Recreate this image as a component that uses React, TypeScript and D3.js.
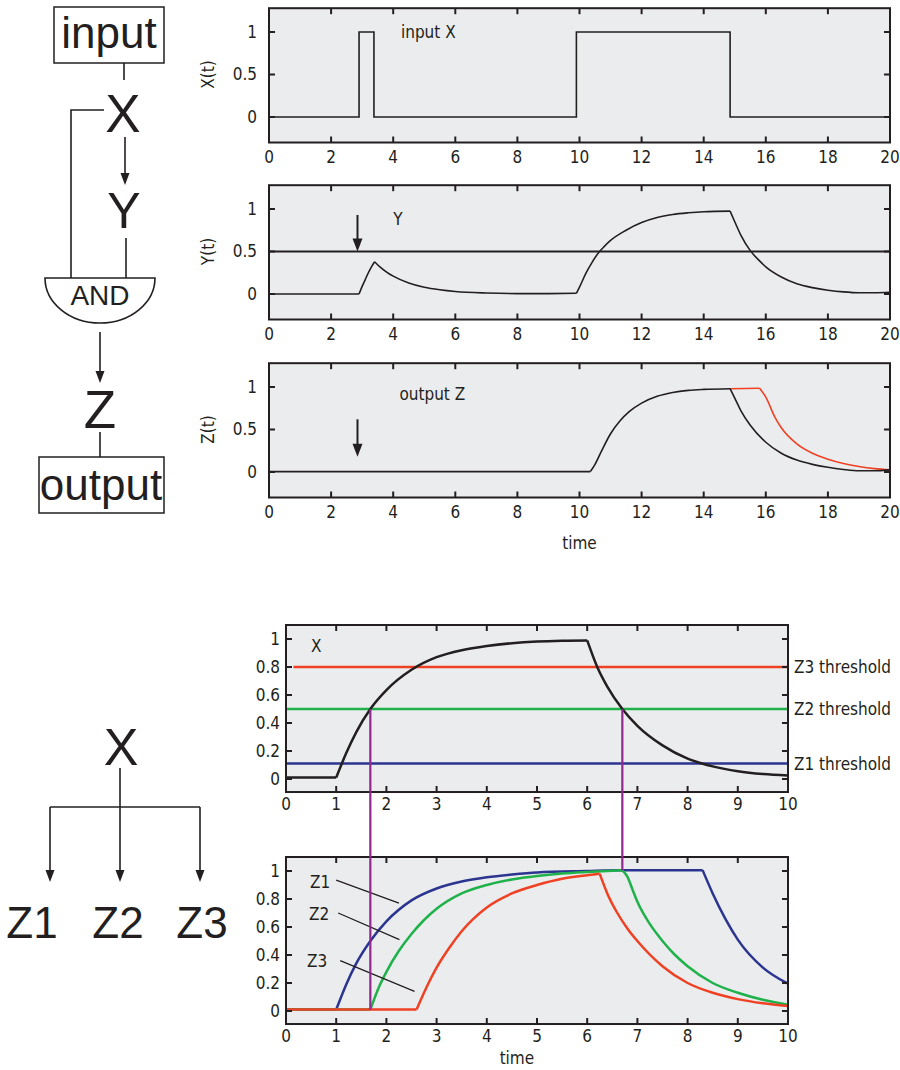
import React from 'react';
import * as d3 from 'd3';

// ---------- data ----------
const topTimeTicks = [0, 2, 4, 6, 8, 10, 12, 14, 16, 18, 20];
const topValueTicks = [0, 0.5, 1];
const bottomTimeTicks = [0, 1, 2, 3, 4, 5, 6, 7, 8, 9, 10];
const bottomValueTicks = [0, 0.2, 0.4, 0.6, 0.8, 1];

// panel A: input X (step function)
const inputTimes = [0, 2.9, 3.38, 9.9, 14.85, 20];
const inputValues = [0, 1, 0, 1, 0, 0];

// panel B: Y(t)
const yTimes = [0, 2.9, 3.0, 3.1, 3.2, 3.3, 3.4, 3.6, 3.8, 4.0, 4.5, 5, 5.5, 6, 7, 8, 9, 9.9,
  10.0, 10.2, 10.4, 10.6, 10.8, 11, 11.5, 12, 12.5, 13, 13.5, 14, 14.85,
  15.0, 15.2, 15.5, 15.8, 16, 16.5, 17, 17.5, 18, 18.5, 19, 19.5, 20];
const yValues = [0, 0, 0.09, 0.17, 0.25, 0.32, 0.38, 0.31, 0.255, 0.21, 0.13, 0.08, 0.05, 0.03, 0.012, 0.005, 0.005, 0.008,
  0.08, 0.24, 0.37, 0.48, 0.56, 0.63, 0.75, 0.84, 0.9, 0.935, 0.955, 0.968, 0.975,
  0.85, 0.69, 0.51, 0.39, 0.32, 0.2, 0.12, 0.075, 0.045, 0.025, 0.015, 0.015, 0.02];
const yKinks = [2.9, 3.4, 9.9, 14.85];
const yThreshold = 0.5;

// panel C: output Z(t)
const zTimes = [0, 10.35, 10.5, 10.7, 11, 11.3, 11.6, 12, 12.5, 13, 13.5, 14, 14.85,
  15.0, 15.2, 15.5, 16, 16.5, 17, 17.5, 18, 18.5, 19, 19.5, 20];
const zValues = [0.005, 0.005, 0.09, 0.24, 0.45, 0.6, 0.71, 0.81, 0.89, 0.935, 0.96, 0.972, 0.98,
  0.87, 0.72, 0.55, 0.35, 0.22, 0.14, 0.09, 0.055, 0.03, 0.015, 0.015, 0.025];
const zKinks = [10.35, 14.85];
const zDelayedTimes = [14.85, 15.8, 16, 16.3, 16.5, 17, 17.5, 18, 18.5, 19, 19.5, 20];
const zDelayedValues = [0.98, 0.985, 0.88, 0.64, 0.52, 0.33, 0.22, 0.15, 0.1, 0.065, 0.04, 0.025];
const zDelayedKinks = [15.8];
const arrowTime = 2.85;

// panel D: X with thresholds
const xTimes = [0, 1, 1.2, 1.4, 1.68, 2, 2.5, 3, 3.5, 4, 4.5, 5, 5.5, 6,
  6.2, 6.4, 6.7, 7, 7.5, 8, 8.5, 9, 9.5, 10];
const xValues = [0.01, 0.01, 0.185, 0.335, 0.5, 0.635, 0.78, 0.87, 0.92, 0.95, 0.97, 0.982, 0.988, 0.99,
  0.8, 0.66, 0.5, 0.38, 0.24, 0.145, 0.09, 0.055, 0.035, 0.025];
const xKinks = [1, 6];
const thresholdLabels = ['Z3 threshold', 'Z2 threshold', 'Z1 threshold'];
const thresholdValues = [0.8, 0.5, 0.11];
const thresholdStarts = [0.15, 0, 0];

// panel E: Z1, Z2, Z3
const z1Times = [0, 1, 1.2, 1.4, 1.68, 2, 2.5, 3, 3.5, 4, 4.5, 5, 6, 6.7, 8.3, 8.5, 8.75, 9, 9.5, 10];
const z1Values = [0.01, 0.01, 0.19, 0.34, 0.5, 0.64, 0.79, 0.875, 0.925, 0.955, 0.975, 0.99, 1.0, 1.005, 1.005, 0.84, 0.66, 0.51, 0.31, 0.195];
const z1Kinks = [1, 8.3];
const z2Times = [0, 1.68, 1.85, 2, 2.25, 2.5, 2.75, 3, 3.5, 4, 4.5, 5, 5.5, 6, 6.7, 6.8, 6.9, 7, 7.25, 7.5, 7.75, 8, 8.5, 9, 9.5, 10];
const z2Values = [0.01, 0.01, 0.17, 0.28, 0.43, 0.55, 0.65, 0.73, 0.84, 0.9, 0.94, 0.965, 0.982, 0.993, 1.005, 0.96, 0.87, 0.78, 0.62, 0.5, 0.4, 0.32, 0.2, 0.13, 0.08, 0.045];
const z2Kinks = [1.68, 6.7];
const z3Times = [0, 2.6, 2.8, 3, 3.25, 3.5, 4, 4.5, 5, 5.5, 6, 6.25, 6.4, 6.6, 6.8, 7, 7.5, 8, 8.5, 9, 9.5, 10];
const z3Values = [0.01, 0.01, 0.17, 0.31, 0.45, 0.57, 0.74, 0.84, 0.9, 0.945, 0.97, 0.98, 0.84, 0.7, 0.59, 0.5, 0.32, 0.2, 0.13, 0.085, 0.055, 0.035];
const z3Kinks = [2.6, 6.25];
const crossingTimes = [1.68, 6.7];
const crossingBottomValues = [0.01, 1.005];
const pointerNames = ['Z1', 'Z2', 'Z3'];
const pointerTextPos = [[0.68, 0.92], [0.66, 0.69], [0.62, 0.36]];
const pointerFrom = [[1.0, 0.935], [1.04, 0.70], [1.08, 0.36]];
const pointerTo = [[2.25, 0.77], [2.26, 0.51], [2.56, 0.14]];

// ---------- styles ----------
const INK = '#231f20';
const BG = '#ebecee';
const RED = '#ef4123';
const GREEN = '#1fb24a';
const BLUE = '#2b3590';
const PURPLE = '#92278f';
const NARROW = "'Liberation Sans Narrow', 'DejaVu Sans Condensed', sans-serif";
const SANS = "'Liberation Sans', Arial, sans-serif";

type Pt = [number, number];

function toSegments(ts: number[], vs: number[], kinks: number[]): Pt[][] {
  const out: Pt[][] = [];
  let cur: Pt[] = [];
  ts.forEach((t, i) => {
    cur.push([t, vs[i]]);
    if (kinks.includes(t) && cur.length > 1) {
      out.push(cur);
      cur = [[t, vs[i]]];
    }
  });
  if (cur.length > 1) out.push(cur);
  return out;
}

function Curve({ xs, ys, ts, vs, kinks, color, width }: any) {
  const line = d3.line<Pt>().x(d => xs(d[0])).y(d => ys(d[1])).curve(d3.curveMonotoneX);
  const segs = toSegments(ts, vs, kinks);
  return (
    <g>
      {segs.map((s, i) => (
        <path key={i} d={line(s) || ''} fill="none" stroke={color} strokeWidth={width} strokeLinejoin="round" />
      ))}
    </g>
  );
}

function Frame({ xs, top, bottom }: any) {
  const [l, r] = xs.range();
  return <rect x={l} y={top} width={r - l} height={bottom - top} fill={BG} />;
}

function FrameTop({ xs, ys, top, bottom, xTicks, yTicks, tickLen, fontSize, xLabelDy, yLabelDx }: any) {
  const [l, r] = xs.range();
  return (
    <g>
      {xTicks.map((t: number) => (
        <g key={'x' + t}>
          <line x1={xs(t)} x2={xs(t)} y1={bottom} y2={bottom - tickLen} stroke={INK} strokeWidth={2} />
          <line x1={xs(t)} x2={xs(t)} y1={top} y2={top + tickLen} stroke={INK} strokeWidth={2} />
          <text x={xs(t)} y={bottom + xLabelDy} textAnchor="middle" fontFamily={NARROW} fontSize={fontSize} fill={INK}>{t}</text>
        </g>
      ))}
      {yTicks.map((v: number) => (
        <g key={'y' + v}>
          <line x1={l} x2={l + tickLen} y1={ys(v)} y2={ys(v)} stroke={INK} strokeWidth={2} />
          <line x1={r} x2={r - tickLen} y1={ys(v)} y2={ys(v)} stroke={INK} strokeWidth={2} />
          <text x={l - yLabelDx} y={ys(v)} dy="0.35em" textAnchor="end" fontFamily={NARROW} fontSize={fontSize} fill={INK}>{v}</text>
        </g>
      ))}
      <rect x={l} y={top} width={r - l} height={bottom - top} fill="none" stroke={INK} strokeWidth={2} />
    </g>
  );
}

function Arrow({ x, y1, y2, head = 12, half = 4.5, width = 1.6 }: any) {
  return (
    <g>
      <line x1={x} x2={x} y1={y1} y2={y2 - head + 2} stroke={INK} strokeWidth={width} />
      <path d={`M${x - half},${y2 - head} L${x + half},${y2 - head} L${x},${y2} Z`} fill={INK} />
    </g>
  );
}

export default function App() {
  // top three panels
  const xsTop = d3.scaleLinear().domain([0, 20]).range([269, 890]);
  const unitTop = 85;
  const zeroLines = [117, 294, 472];
  const ysTop = zeroLines.map(z0 => d3.scaleLinear().domain([0, 1]).range([z0, z0 - unitTop]));
  const topOf = (i: number) => zeroLines[i] - 1.28 * unitTop;
  const botOf = (i: number) => zeroLines[i] + 0.3 * unitTop;

  // bottom two panels
  const xsBot = d3.scaleLinear().domain([0, 10]).range([286, 788]);
  const unitBot = 140;
  const zeroBot = [779, 1011];
  const ysBot = zeroBot.map(z0 => d3.scaleLinear().domain([0, 1]).range([z0, z0 - unitBot]));
  const topB = (i: number) => zeroBot[i] - 1.1 * unitBot;
  const botB = (i: number) => zeroBot[i] + 0.093 * unitBot;

  const topPanel = (i: number, content: React.ReactNode, label: string) => (
    <g key={i}>
      <Frame xs={xsTop} top={topOf(i)} bottom={botOf(i)} />
      {content}
      <FrameTop xs={xsTop} ys={ysTop[i]} top={topOf(i)} bottom={botOf(i)} xTicks={topTimeTicks} yTicks={topValueTicks}
        tickLen={6} fontSize={17} xLabelDy={20} yLabelDx={12} />
      <text transform={`translate(214,${ysTop[i](0.5)}) rotate(-90)`} textAnchor="middle" fontFamily={NARROW} fontSize={17} fill={INK}>{label}</text>
    </g>
  );

  const botPanel = (i: number, content: React.ReactNode) => (
    <g key={'b' + i}>
      <Frame xs={xsBot} top={topB(i)} bottom={botB(i)} />
      {content}
      <FrameTop xs={xsBot} ys={ysBot[i]} top={topB(i)} bottom={botB(i)} xTicks={bottomTimeTicks} yTicks={bottomValueTicks}
        tickLen={6} fontSize={17} xLabelDy={18} yLabelDx={6} />
    </g>
  );

  return (
    <svg width={900} height={1070} style={{ position: 'absolute', left: 0, top: 0, background: '#fff' }}>
      {/* ---------- top-left diagram ---------- */}
      <g fontFamily={SANS} fill={INK} stroke="none">
        <rect x={54} y={7} width={110} height={56} fill="none" stroke={INK} strokeWidth={1.5} />
        <text x={109} y={48} textAnchor="middle" fontSize={44}>input</text>
        <line x1={124} x2={124} y1={63} y2={80} stroke={INK} strokeWidth={1.6} />
        <text x={123} y={132} textAnchor="middle" fontSize={53}>X</text>
        <polyline points="104,110 71,110 71,278" fill="none" stroke={INK} strokeWidth={1.6} />
        <Arrow x={125} y1={137} y2={185} />
        <text x={124} y={228} textAnchor="middle" fontSize={50}>Y</text>
        <line x1={126} x2={126} y1={238} y2={278} stroke={INK} strokeWidth={1.6} />
        <path d="M45,278 L155,278 A55,45 0 0 1 45,278 Z" fill="none" stroke={INK} strokeWidth={1.6} />
        <text x={100} y={305} textAnchor="middle" fontSize={28}>AND</text>
        <Arrow x={100} y1={332} y2={383} />
        <text x={100} y={428} textAnchor="middle" fontSize={53}>Z</text>
        <line x1={100} x2={100} y1={432} y2={457} stroke={INK} strokeWidth={1.6} />
        <rect x={39} y={457} width={125} height={56} fill="none" stroke={INK} strokeWidth={1.5} />
        <text x={101} y={500} textAnchor="middle" fontSize={44}>output</text>
      </g>

      {/* ---------- bottom-left diagram ---------- */}
      <g fontFamily={SANS} fill={INK}>
        <text x={121} y={765} textAnchor="middle" fontSize={52}>X</text>
        <Arrow x={120} y1={768} y2={882} />
        <line x1={50} x2={200} y1={807} y2={807} stroke={INK} strokeWidth={1.6} />
        <Arrow x={50} y1={807} y2={882} />
        <Arrow x={200} y1={807} y2={882} />
        <text x={32} y={938} textAnchor="middle" fontSize={44}>Z1</text>
        <text x={118} y={938} textAnchor="middle" fontSize={44}>Z2</text>
        <text x={202} y={938} textAnchor="middle" fontSize={44}>Z3</text>
      </g>

      {/* ---------- panel A ---------- */}
      {topPanel(0, (
        <g>
          <path d={d3.line<Pt>().x(d => xsTop(d[0])).y(d => ysTop[0](d[1])).curve(d3.curveStepAfter)(inputTimes.map((t, i) => [t, inputValues[i]] as Pt)) || ''}
            fill="none" stroke={INK} strokeWidth={1.6} />
          <text x={xsTop(4.25)} y={ysTop[0](1)} dy="0.35em" fontFamily={NARROW} fontSize={17} fill={INK}>input X</text>
        </g>
      ), 'X(t)')}

      {/* ---------- panel B ---------- */}
      {topPanel(1, (
        <g>
          <line x1={xsTop(0)} x2={xsTop(20)} y1={ysTop[1](yThreshold)} y2={ysTop[1](yThreshold)} stroke={INK} strokeWidth={2} />
          <Curve xs={xsTop} ys={ysTop[1]} ts={yTimes} vs={yValues} kinks={yKinks} color={INK} width={1.6} />
          <Arrow x={xsTop(arrowTime)} y1={ysTop[1](0.93)} y2={ysTop[1](0.5)} head={13} half={5} width={2} />
          <text x={xsTop(4.0)} y={ysTop[1](0.88)} dy="0.35em" fontFamily={NARROW} fontSize={17} fill={INK}>Y</text>
        </g>
      ), 'Y(t)')}

      {/* ---------- panel C ---------- */}
      {topPanel(2, (
        <g>
          <Curve xs={xsTop} ys={ysTop[2]} ts={zDelayedTimes} vs={zDelayedValues} kinks={zDelayedKinks} color={RED} width={1.6} />
          <Curve xs={xsTop} ys={ysTop[2]} ts={zTimes} vs={zValues} kinks={zKinks} color={INK} width={1.6} />
          <Arrow x={xsTop(arrowTime)} y1={ysTop[2](0.62)} y2={ysTop[2](0.18)} head={13} half={5} width={2} />
          <text x={xsTop(4.2)} y={ysTop[2](0.92)} dy="0.35em" fontFamily={NARROW} fontSize={17} fill={INK}>output Z</text>
        </g>
      ), 'Z(t)')}
      <text x={xsTop(10)} y={549} textAnchor="middle" fontFamily={NARROW} fontSize={17} fill={INK}>time</text>

      {/* ---------- panel D ---------- */}
      {botPanel(0, (
        <g>
          {thresholdValues.map((v, i) => (
            <line key={i} x1={xsBot(thresholdStarts[i])} x2={xsBot(10)} y1={ysBot[0](v)} y2={ysBot[0](v)}
              stroke={[RED, GREEN, BLUE][i]} strokeWidth={2.5} />
          ))}
          <Curve xs={xsBot} ys={ysBot[0]} ts={xTimes} vs={xValues} kinks={xKinks} color={INK} width={2.5} />
          <text x={xsBot(0.6)} y={ysBot[0](0.95)} dy="0.35em" textAnchor="middle" fontFamily={NARROW} fontSize={17} fill={INK}>X</text>
        </g>
      ))}
      {thresholdValues.map((v, i) => (
        <text key={'tl' + i} x={794} y={ysBot[0](v)} dy="0.35em" fontFamily={NARROW} fontSize={17} fill={INK}>{thresholdLabels[i]}</text>
      ))}

      {/* ---------- panel E ---------- */}
      {botPanel(1, (
        <g>
          <Curve xs={xsBot} ys={ysBot[1]} ts={z1Times} vs={z1Values} kinks={z1Kinks} color={BLUE} width={2.5} />
          <Curve xs={xsBot} ys={ysBot[1]} ts={z2Times} vs={z2Values} kinks={z2Kinks} color={GREEN} width={2.5} />
          <Curve xs={xsBot} ys={ysBot[1]} ts={z3Times} vs={z3Values} kinks={z3Kinks} color={RED} width={2.5} />
          {pointerNames.map((n, i) => (
            <g key={n}>
              <text x={xsBot(pointerTextPos[i][0])} y={ysBot[1](pointerTextPos[i][1])} dy="0.35em" textAnchor="middle"
                fontFamily={NARROW} fontSize={17} fill={INK}>{n}</text>
              <line x1={xsBot(pointerFrom[i][0])} y1={ysBot[1](pointerFrom[i][1])} x2={xsBot(pointerTo[i][0])} y2={ysBot[1](pointerTo[i][1])}
                stroke={INK} strokeWidth={1.3} />
            </g>
          ))}
        </g>
      ))}
      <text x={xsBot(4.6)} y={1064} textAnchor="middle" fontFamily={NARROW} fontSize={17} fill={INK}>time</text>

      {/* purple crossing markers */}
      {crossingTimes.map((t, i) => (
        <line key={'p' + i} x1={xsBot(t)} x2={xsBot(t)} y1={ysBot[0](0.5)} y2={ysBot[1](crossingBottomValues[i])}
          stroke={PURPLE} strokeWidth={2.2} />
      ))}
    </svg>
  );
}
